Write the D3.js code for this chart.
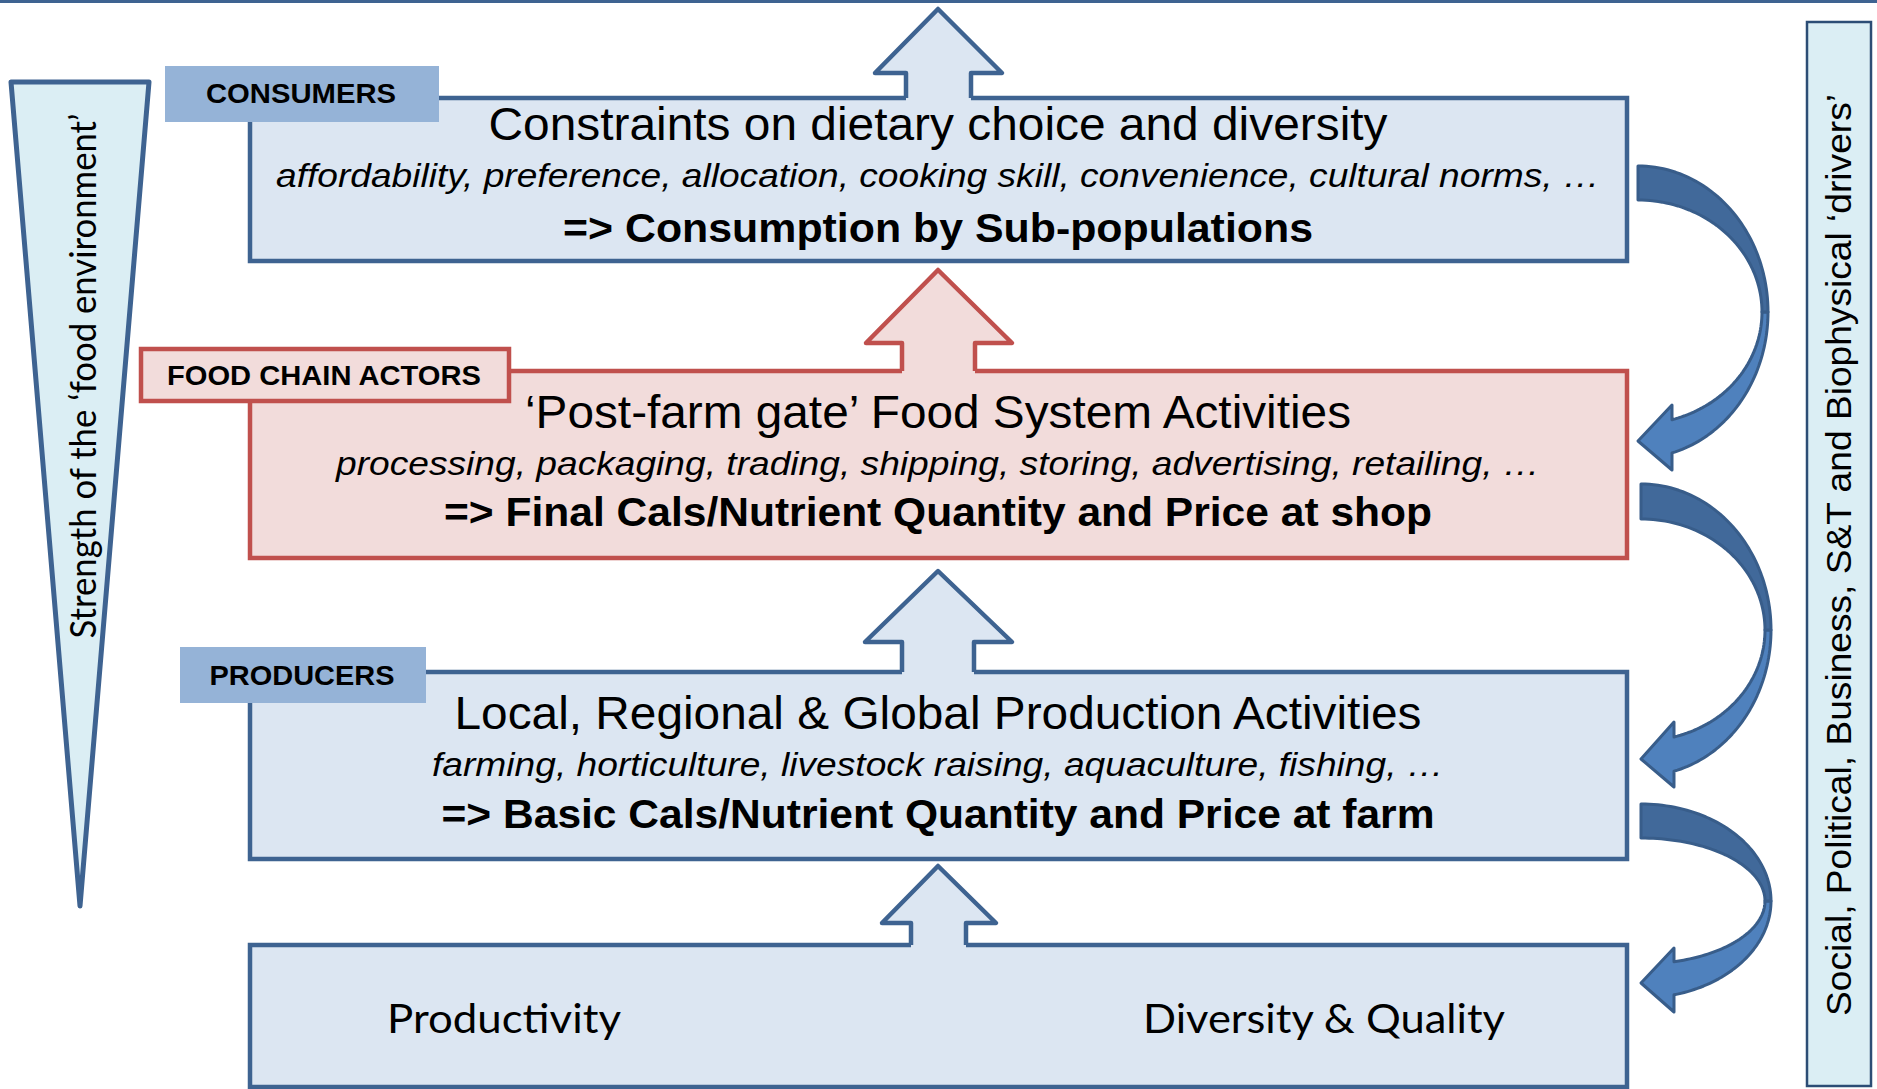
<!DOCTYPE html>
<html>
<head>
<meta charset="utf-8">
<script src="https://cdn.jsdelivr.net/npm/d3@7"></script>
<style>
  html, body { margin: 0; padding: 0; background: #fff; }
  svg { display: block; }
</style>
</head>
<body>
<div id="chart"></div>
<script>
// diagram text
const tierTabs = ["CONSUMERS", "FOOD CHAIN ACTORS", "PRODUCERS"];
const tierTitles = [
  "Constraints on dietary choice and diversity",
  "\u2018Post-farm gate\u2019 Food System Activities",
  "Local, Regional & Global Production Activities"
];
const tierExamples = [
  "affordability, preference, allocation, cooking skill, convenience, cultural norms, \u2026",
  "processing, packaging, trading, shipping, storing, advertising, retailing, \u2026",
  "farming, horticulture, livestock raising, aquaculture, fishing, \u2026"
];
const tierOutcomes = [
  "=> Consumption by Sub-populations",
  "=> Final Cals/Nutrient Quantity and Price at shop",
  "=> Basic Cals/Nutrient Quantity and Price at farm"
];
const baseLabels = ["Productivity", "Diversity & Quality"];
const leftLabel = "Strength of the \u2018food environment\u2019";
const rightLabel = "Social, Political, Business, S&T and Biophysical \u2018drivers\u2019";

// layout
const width = 1877, height = 1089;
const arial = "'Liberation Sans', Arial, sans-serif";
const calibri = "Lato, 'Open Sans', sans-serif";
const blue = { fill: "#dce6f2", stroke: "#3e6391", tab: "#95b3d7" };
const red = { fill: "#f2dcdb", stroke: "#c0504d" };
const boxLeft = 250, boxRight = 1627, midX = 938;

const tierLayout = [
  { top: 98, bottom: 261, col: blue, tab: { x: 165, y: 66, w: 274, h: 56, tx: 301, ty: 103, tw: 190 },
    lines: [140, 187, 242], widths: [899, 1324, 750] },
  { top: 371, bottom: 558, col: red, tab: { x: 141, y: 349, w: 368, h: 52, tx: 324, ty: 385, tw: 314 },
    lines: [428, 475, 526], widths: [826, 1204, 988] },
  { top: 672, bottom: 859, col: blue, tab: { x: 180, y: 647, w: 246, h: 56, tx: 302, ty: 685, tw: 185 },
    lines: [729, 776, 828], widths: [967, 1012, 993] }
];

const upArrows = [
  { tip: 9, base: 73, foot: 98, headL: 875, headR: 1002, stemL: 906, stemR: 971, col: blue },
  { tip: 270, base: 343, foot: 371, headL: 866, headR: 1012, stemL: 902, stemR: 975, col: red },
  { tip: 571, base: 642, foot: 672, headL: 865, headR: 1012, stemL: 902, stemR: 974, col: blue },
  { tip: 866, base: 923, foot: 945, headL: 882, headR: 996, stemL: 911, stemR: 966, col: blue }
];

const curvedArrows = [
  { xc: 1638, cy: 312, ryOut: 146, ryIn: 112, headX: 1672, barbTop: 405, barbBot: 470, tipY: 441 },
  { xc: 1641, cy: 630, ryOut: 146, ryIn: 111, headX: 1674, barbTop: 722, barbBot: 787, tipY: 759 },
  { xc: 1641, cy: 901, ryOut: 97, ryIn: 63, headX: 1674, barbTop: 948, barbBot: 1012, tipY: 983 }
];

const svg = d3.select("#chart").append("svg")
  .attr("width", width)
  .attr("height", height)
  .style("background", "#fff");

const line = d3.line();

function addText(sel, str, x, y, size, opts) {
  opts = opts || {};
  const t = sel.append("text")
    .attr("x", x)
    .attr("y", y)
    .attr("text-anchor", "middle")
    .style("font-family", opts.family || arial)
    .style("font-size", size + "px")
    .style("font-weight", opts.weight || "normal")
    .style("font-style", opts.style || "normal")
    .attr("fill", "#000")
    .text(str);
  if (opts.len) {
    t.attr("textLength", opts.len).attr("lengthAdjust", "spacingAndGlyphs");
  }
  if (opts.rotate) t.attr("transform", `rotate(-90, ${x}, ${y})`);
  return t;
}

// top rule
svg.append("line")
  .attr("x1", 0).attr("x2", width)
  .attr("y1", 1.5).attr("y2", 1.5)
  .attr("stroke", blue.stroke)
  .attr("stroke-width", 3);

// left wedge: strength of the food environment
svg.append("path")
  .attr("d", line([[11, 82], [149, 82], [80, 906]]) + "Z")
  .attr("fill", "#dbeef4")
  .attr("stroke", blue.stroke)
  .attr("stroke-width", 5)
  .attr("stroke-linejoin", "round");
addText(svg, leftLabel, 96, 376, 36, { family: calibri, len: 525, rotate: true });

// right panel: drivers
svg.append("rect")
  .attr("x", 1807).attr("y", 22)
  .attr("width", 64).attr("height", 1064)
  .attr("fill", "#dbeef4")
  .attr("stroke", "#2c4d75")
  .attr("stroke-width", 2.5);
addText(svg, rightLabel, 1851, 555, 35, { len: 922, rotate: true });

// tier boxes
tierLayout.forEach((L, i) => {
  svg.append("rect")
    .attr("x", boxLeft).attr("y", L.top)
    .attr("width", boxRight - boxLeft)
    .attr("height", L.bottom - L.top)
    .attr("fill", L.col.fill)
    .attr("stroke", L.col.stroke)
    .attr("stroke-width", 4.5);
});

// bottom box
svg.append("rect")
  .attr("x", boxLeft).attr("y", 945)
  .attr("width", boxRight - boxLeft)
  .attr("height", 142)
  .attr("fill", blue.fill)
  .attr("stroke", blue.stroke)
  .attr("stroke-width", 4.5);

// up arrows, merged into the box below them
upArrows.forEach((a) => {
  const pts = [
    [a.stemL, a.foot], [a.stemL, a.base], [a.headL, a.base], [midX, a.tip],
    [a.headR, a.base], [a.stemR, a.base], [a.stemR, a.foot]
  ];
  const fillPts = [[a.stemL, a.foot + 4]].concat(pts.slice(1, -1), [[a.stemR, a.foot + 4]]);
  svg.append("path")
    .attr("d", line(fillPts) + "Z")
    .attr("fill", a.col.fill);
  svg.append("path")
    .attr("d", line(pts))
    .attr("fill", "none")
    .attr("stroke", a.col.stroke)
    .attr("stroke-width", 4.5)
    .attr("stroke-linejoin", "round");
});

// tabs and tier text
tierLayout.forEach((L, i) => {
  const tab = L.tab;
  const r = svg.append("rect")
    .attr("x", tab.x).attr("y", tab.y)
    .attr("width", tab.w).attr("height", tab.h);
  if (L.col === red) {
    r.attr("fill", red.fill).attr("stroke", red.stroke).attr("stroke-width", 4.5);
  } else {
    r.attr("fill", blue.tab);
  }
  addText(svg, tierTabs[i], tab.tx, tab.ty, 28, { weight: "bold", len: tab.tw });

  addText(svg, tierTitles[i], midX, L.lines[0], 46, { len: L.widths[0] });
  addText(svg, tierExamples[i], midX, L.lines[1], 34, { style: "italic", len: L.widths[1] });
  addText(svg, tierOutcomes[i], midX, L.lines[2], 40, { weight: "bold", len: L.widths[2] });
});

addText(svg, baseLabels[0], 504, 1033, 40, { family: calibri, len: 234 });
addText(svg, baseLabels[1], 1324, 1033, 40, { family: calibri, len: 362 });

// curved side arrows
const rxOut = 130, rxIn = 124;
curvedArrows.forEach((c) => {
  const ell = (rx, ry, th) => [c.xc + rx * Math.cos(th), c.cy + ry * Math.sin(th)];
  const steps = 48;
  const range = (a, b) => d3.range(steps + 1).map((k) => a + (b - a) * k / steps);

  const thOut = Math.acos((c.headX - c.xc) / rxOut);
  const thIn = Math.acos((c.headX - c.xc) / rxIn);

  const lower = range(0, thOut).map((t) => ell(rxOut, c.ryOut, t))
    .concat([[c.headX, c.barbBot], [c.xc, c.tipY], [c.headX, c.barbTop]])
    .concat(range(thIn, 0).map((t) => ell(rxIn, c.ryIn, t)));
  svg.append("path")
    .attr("d", line(lower) + "Z")
    .attr("fill", "#4f81bd")
    .attr("stroke", "#385d8a")
    .attr("stroke-width", 3)
    .attr("stroke-linejoin", "round");

  const upper = range(-Math.PI / 2, 0).map((t) => ell(rxOut, c.ryOut, t))
    .concat(range(0, -Math.PI / 2).map((t) => ell(rxIn, c.ryIn, t)));
  svg.append("path")
    .attr("d", line(upper) + "Z")
    .attr("fill", "#41699a")
    .attr("stroke", "#385d8a")
    .attr("stroke-width", 3)
    .attr("stroke-linejoin", "round");
});
</script>
</body>
</html>
